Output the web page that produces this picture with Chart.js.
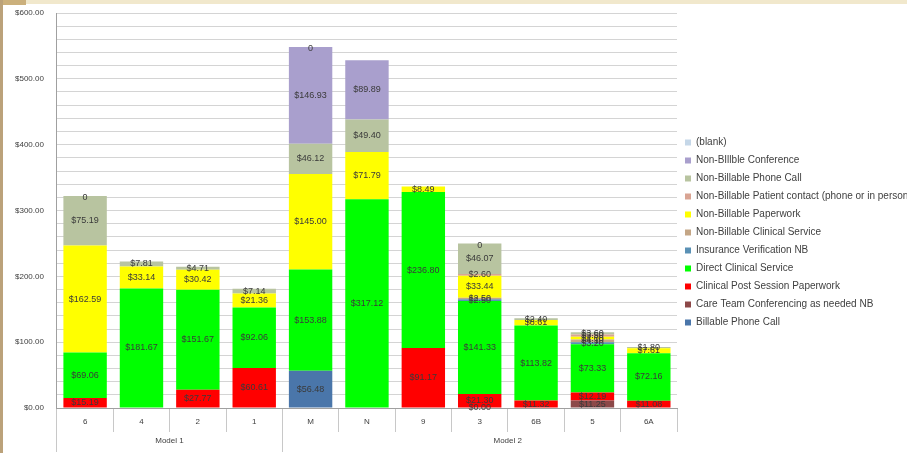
<!DOCTYPE html>
<html>
<head>
<meta charset="utf-8">
<script src="https://cdn.jsdelivr.net/npm/chart.js@4.4.1/dist/chart.umd.min.js"></script>
<style>
html,body{margin:0;padding:0;background:#fff;}
#wrap{position:relative;width:907px;height:453px;overflow:hidden;}
#topstrip{position:absolute;left:0;top:0;width:907px;height:4px;background:#f1e8cc;}
#topblock{position:absolute;left:0;top:0;width:26px;height:5px;background:#cbb07c;}
#leftstrip{position:absolute;left:0;top:0;width:3px;height:453px;background:#bba27a;}
canvas{position:absolute;left:0;top:0;}
</style>
</head>
<body>
<div id="wrap">
<canvas id="c" width="907" height="453"></canvas>
<div id="topstrip"></div><div id="topblock"></div><div id="leftstrip"></div>
</div>
<script>
const categories = ['6','4','2','1','M','N','9','3','6B','5','6A'];
const groupLabels = ['', 'Model 1', '', '', '', '', '', 'Model 2', '', '', ''];
const groupBoundaryIdx = [0, 4, 11];
const yTicks = [0,100,200,300,400,500,600];

const billablePhoneCall      = [null,null,null,null,56.48,null,null,0,null,null,null];
const careTeamConferencing   = [null,null,null,null,null,null,null,null,null,11.25,null];
const clinicalPostPaperwork  = [15.19,null,27.77,60.61,null,null,91.17,21.30,11.32,12.19,11.08];
const directClinicalService  = [69.06,181.67,151.67,92.06,153.88,317.12,236.80,141.33,113.82,73.33,72.16];
const insuranceVerification  = [null,null,null,null,null,null,null,2.50,null,3.20,null];
const nbClinicalService      = [null,null,null,null,null,null,null,2.50,null,4.10,null];
const nbPaperwork            = [162.59,33.14,30.42,21.36,145.00,71.79,8.49,33.44,8.61,4.00,7.61];
const nbPatientContact       = [null,null,null,null,null,null,null,2.60,null,3.50,null];
const nbPhoneCall            = [75.19,7.81,4.71,7.14,46.12,49.40,null,46.07,2.40,3.60,1.80];
const nbConference           = [null,null,null,null,146.93,89.89,null,null,null,null,null];
const blank                  = [0,null,null,null,0,null,null,0,null,null,null];

const seriesNames = ['Billable Phone Call','Care Team Conferencing as needed NB','Clinical Post Session Paperwork','Direct Clinical Service','Insurance Verification NB','Non-Billable Clinical Service','Non-Billable Paperwork','Non-Billable Patient contact (phone or in person)','Non-Billable Phone Call','Non-BIllble Conference','(blank)'];
const seriesData = [billablePhoneCall,careTeamConferencing,clinicalPostPaperwork,directClinicalService,insuranceVerification,nbClinicalService,nbPaperwork,nbPatientContact,nbPhoneCall,nbConference,blank];
const seriesColors = ['#4a76aa','#8c4848','#ff0000','#00ff00','#5a91b5','#c4a686','#ffff00','#d9a493','#b8c4a0','#a99fcd','#c5d7e8'];

const FONT = '"Liberation Sans", Arial, sans-serif';

const labelPlugin = {
  id:'segLabels',
  afterDatasetsDraw(chart){
    const ctx = chart.ctx;
    ctx.save();
    ctx.font = '9px ' + FONT;
    ctx.textAlign = 'center';
    ctx.textBaseline = 'middle';
    ctx.fillStyle = '#3a3a3a';
    chart.data.datasets.forEach((ds, di) => {
      const meta = chart.getDatasetMeta(di);
      meta.data.forEach((el, i) => {
        const v = ds.data[i];
        if (v === null || v === undefined) return;
        const txt = ds.isBlank ? '0' : '$' + v.toFixed(2);
        const y = ds.isBlank ? el.y + 2 : (el.y + el.base) / 2;
        ctx.fillText(txt, el.x, y);
      });
    });
    ctx.restore();
  }
};

const datasets = seriesNames.map((n, i) => ({
  label: n,
  data: seriesData[i],
  backgroundColor: seriesColors[i],
  borderWidth: 0,
  isBlank: i === seriesNames.length - 1,
  barPercentage: 0.77,
  categoryPercentage: 1.0,
  xAxisID: 'x'
}));

new Chart(document.getElementById('c'), {
  type: 'bar',
  data: { labels: categories, datasets },
  plugins: [labelPlugin],
  options: {
    responsive: false,
    animation: false,
    layout: { padding: { top: 13, left: 2, right: 0, bottom: 1 } },
    plugins: {
      tooltip: { enabled: false },
      legend: {
        position: 'right',
        reverse: true,
        maxWidth: 230,
        labels: {
          boxWidth: 6, boxHeight: 6, padding: 8,
          color: '#404040',
          font: { size: 10, family: FONT }
        }
      }
    },
    scales: {
      x: {
        stacked: true,
        position: 'bottom',
        afterFit: (a) => { a.height = 24; },
        border: { display: true, color: '#a0a0a0' },
        grid: { offset: true, drawOnChartArea: false, tickLength: 24, color: '#c8c8c8' },
        ticks: { padding: -15, color: '#404040', font: { size: 8, family: FONT } }
      },
      x2: {
        type: 'category',
        labels: groupLabels,
        position: 'bottom',
        offset: true,
        afterFit: (a) => { a.height = 20; },
        border: { display: false },
        grid: {
          offset: true, drawOnChartArea: false, tickLength: 20,
          color: (c) => groupBoundaryIdx.includes(c.index) ? '#c8c8c8' : 'rgba(0,0,0,0)'
        },
        ticks: {
          padding: -16, color: '#404040', autoSkip: false, maxRotation: 0,
          labelOffset: 28,
          font: { size: 8, family: FONT }
        }
      },
      y: {
        stacked: true,
        min: 0, max: 600,
        border: { display: true, color: '#a0a0a0' },
        afterBuildTicks: (axis) => {
          const t = [];
          for (let v = 0; v <= 600; v += 20) t.push({ value: v });
          axis.ticks = t;
        },
        afterFit: (a) => { a.paddingTop = 0; a.paddingBottom = 0; },
        grid: { color: '#d4d4d4', drawTicks: false },
        ticks: {
          padding: 13, color: '#404040', autoSkip: false,
          font: { size: 8, family: FONT },
          callback: (v) => yTicks.includes(v) ? '$' + v.toFixed(2) : ''
        }
      }
    }
  }
});
</script>
</body>
</html>
